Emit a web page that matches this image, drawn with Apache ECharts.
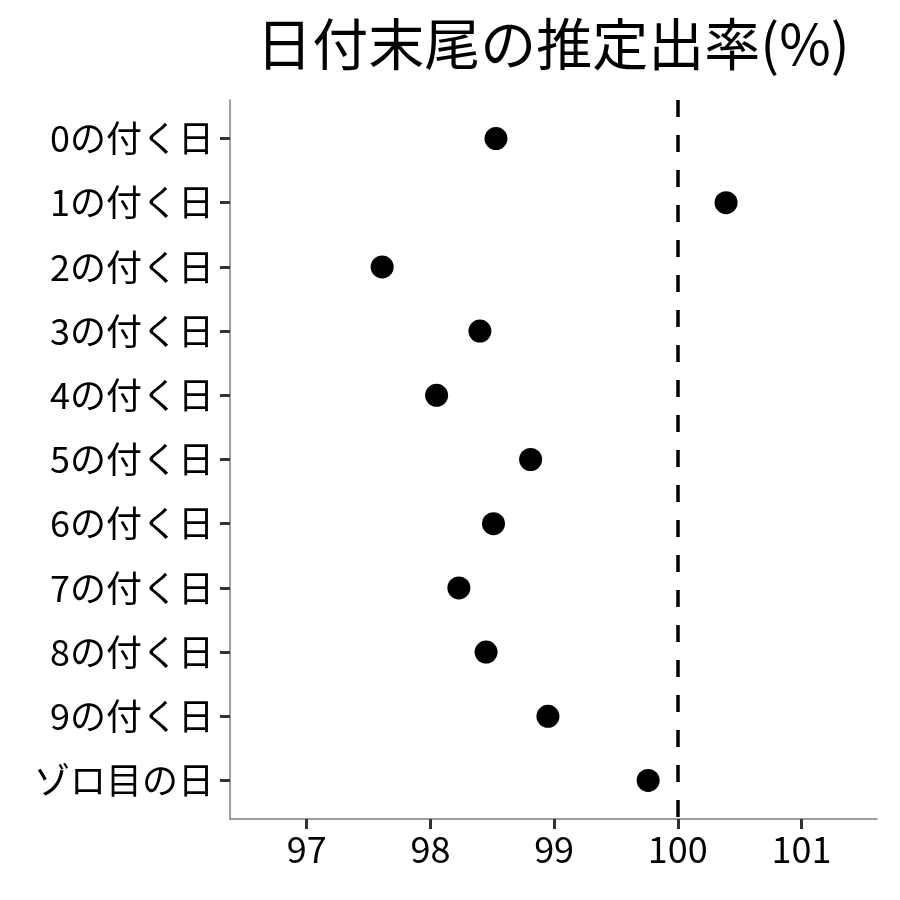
<!DOCTYPE html>
<html>
<head>
<meta charset="utf-8">
<script src="https://cdn.jsdelivr.net/npm/echarts@6/dist/echarts.min.js"></script>
<style>html,body{margin:0;padding:0;background:#fff}#c{width:900px;height:900px}</style>
</head>
<body>
<div id="c"></div>
<script>
const categories = ["0の付く日","1の付く日","2の付く日","3の付く日","4の付く日","5の付く日","6の付く日","7の付く日","8の付く日","9の付く日","ゾロ目の日"];
const rates = [98.53, 100.39, 97.61, 98.40, 98.05, 98.81, 98.51, 98.23, 98.45, 98.95, 99.76];
const xTicks = [97, 98, 99, 100, 101];
const refValue = 100;
const FONT = '"Noto Sans CJK JP", "Noto Sans", sans-serif';

const chart = echarts.init(document.getElementById('c'));
chart.setOption({
  backgroundColor: '#fff',
  animation: false,
  title: {
    text: '日付末尾の推定出率(%)',
    left: 548, top: 11, textAlign: 'center',
    textStyle: { fontFamily: FONT, fontSize: 56, fontWeight: 'normal', color: '#000' }
  },
  grid: { left: 230, right: 23, top: 100, bottom: 81 },
  xAxis: {
    type: 'value', min: 96.38, max: 101.61,
    axisLine: { show: true, onZero: false, lineStyle: { color: '#7f7f7f', width: 1.5 } },
    axisTick: { show: true, customValues: xTicks, length: 10, lineStyle: { color: '#333', width: 3 } },
    axisLabel: { customValues: xTicks, fontFamily: FONT, fontSize: 36, color: '#000', margin: 12 },
    splitLine: { show: false }
  },
  yAxis: {
    type: 'value', inverse: true, min: -0.6, max: 10.6,
    axisLine: { show: true, onZero: false, lineStyle: { color: '#7f7f7f', width: 1.5 } },
    axisTick: { show: true, customValues: categories.map((c, i) => i), length: 10, lineStyle: { color: '#333', width: 3 } },
    axisLabel: {
      customValues: categories.map((c, i) => i),
      formatter: v => categories[Math.round(v)] || '',
      fontFamily: FONT, fontSize: 36, color: '#000', margin: 16
    },
    splitLine: { show: false }
  },
  series: [{
    type: 'scatter',
    symbol: 'circle', symbolSize: 23,
    itemStyle: { color: '#000', opacity: 1 },
    data: rates.map((v, i) => [v, i]),
    markLine: {
      silent: true, symbol: 'none', animation: false,
      label: { show: false },
      lineStyle: { color: '#000', width: 3.5, type: [17, 18], opacity: 1 },
      data: [{ xAxis: refValue }]
    }
  }]
});
</script>
</body>
</html>
